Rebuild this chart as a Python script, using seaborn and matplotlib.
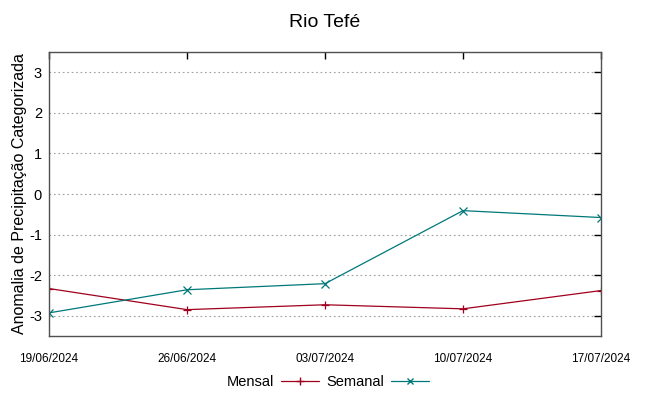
import numpy as np
import pandas as pd
import matplotlib
matplotlib.use("Agg")
import matplotlib.pyplot as plt
import seaborn as sns

# data
datas = ["19/06/2024", "26/06/2024", "03/07/2024", "10/07/2024", "17/07/2024"]
mensal = [-2.33, -2.85, -2.73, -2.83, -2.38]
semanal = [-2.93, -2.36, -2.21, -0.41, -0.58]
yticks = [-3, -2, -1, 0, 1, 2, 3]

sns.set_style("white")
plt.rcParams['font.family'] = ['Liberation Sans', 'DejaVu Sans']
plt.rcParams['text.color'] = 'black'
plt.rcParams['axes.labelcolor'] = 'black'
plt.rcParams['xtick.color'] = 'black'
plt.rcParams['ytick.color'] = 'black'

df = pd.DataFrame({
    "data": pd.to_datetime(datas * 2, format="%d/%m/%Y"),
    "valor": mensal + semanal,
    "serie": ["Mensal"] * len(datas) + ["Semanal"] * len(datas),
})

fig = plt.figure(figsize=(6.49, 3.96), dpi=100)
ax = fig.add_axes([0.0755, 0.1515, 0.8505, 0.7172])

cores = {"Mensal": "#a0001e", "Semanal": "#00787a"}
marcadores = {"Mensal": "+", "Semanal": "x"}
sns.lineplot(data=df, x="data", y="valor", hue="serie", style="serie",
             palette=cores, markers=marcadores, dashes=False, linewidth=0.9,
             markersize=5.5, ax=ax, legend=False)
for ln in ax.lines:
    ln.set_markeredgecolor(ln.get_color())
    ln.set_markeredgewidth(0.9)

x = pd.to_datetime(datas, format="%d/%m/%Y")
ax.set_xlim(x[0], x[-1])
ax.set_ylim(-3.5, 3.5)
ax.set_xticks(x)
ax.set_xticklabels(datas, fontsize=8.5)
ax.set_yticks(yticks)
ax.set_yticklabels([str(v) for v in yticks], fontsize=10.5)
ax.tick_params(axis='both', direction='in', length=5, width=1, color='black',
               top=True, right=True)
ax.tick_params(axis='x', pad=12)
ax.tick_params(axis='y', pad=5)
ax.grid(axis='y', color='#a0a0a0', linestyle=(0, (1.5, 2.5)), linewidth=0.8)
ax.set_axisbelow(True)
for s in ax.spines.values():
    s.set_color('#505050')
    s.set_linewidth(1)
ax.set_xlabel("")
ax.set_ylabel("Anomalia de Precipitação Categorizada", fontsize=11.5)
ax.yaxis.set_label_coords(-0.04, 0.5)
fig.suptitle("Rio Tefé", fontsize=14, y=0.965)

h1, = ax.plot([], [], color=cores["Mensal"], marker="+", linewidth=0.9, markersize=6)
h2, = ax.plot([], [], color=cores["Semanal"], marker="x", linewidth=0.9, markersize=4.5)
fig.legend([h1, h2], ["Mensal", "Semanal"], loc="center", bbox_to_anchor=(0.505, 0.035),
           ncol=2, frameon=False, markerfirst=False, fontsize=10.5,
           handlelength=2.6, columnspacing=0.5, handletextpad=0.5)

fig.savefig("out.png", dpi=100)
